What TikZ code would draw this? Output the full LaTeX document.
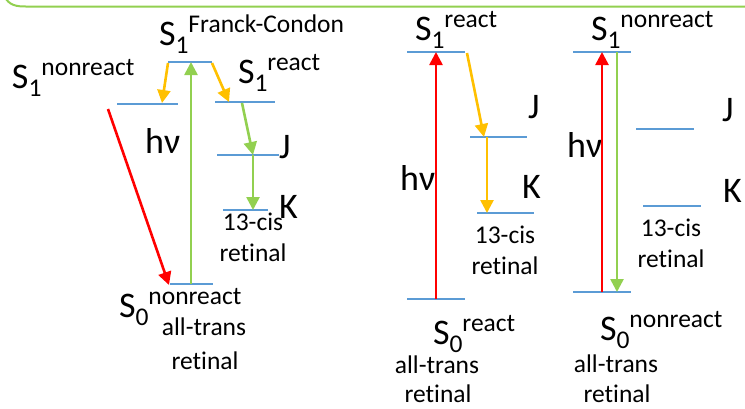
\documentclass[tikz,border=0pt]{standalone}
\usepackage{fontspec}
\setmainfont{Carlito}[Ligatures={NoCommon}]
\usetikzlibrary{arrows.meta}

\definecolor{lvlblue}{HTML}{5B9BD5}
\definecolor{photored}{HTML}{FF0000}
\definecolor{relaxamber}{HTML}{FFC000}
\definecolor{leafgreen}{HTML}{92D050}

\newcommand\bigtxt{\fontsize{36}{40}\selectfont}
\newcommand\smalltxt{\fontsize{25.5}{28}\selectfont}
% state symbol: large letter, subscript index, then raised tag
\newcommand\statelabel[3]{{\bigtxt #1}\raisebox{-8pt}{\smalltxt #2}\raisebox{13pt}{\smalltxt #3}}

\tikzset{
  x=1pt, y=-1pt,
  level/.style={draw=lvlblue, line width=1.5pt},
  trans/.style={line width=2.6pt, -{Triangle[length=13pt,width=13pt]}},
  statetxt/.style={anchor=base west, inner sep=0pt, outer sep=0pt},
  bigtag/.style={anchor=base west, inner sep=0pt, font=\bigtxt},
  note/.style={anchor=base, inner sep=0pt, font=\smalltxt},
}

\begin{document}
\begin{tikzpicture}
\useasboundingbox (0,0) rectangle (745,408);

% frame edge along the top
\draw[leafgreen, line width=2pt] (6,-1) to[out=-55,in=180] (30,6.5) -- (746,6.5);

% ---------- left panel ----------
\coordinate (fcL) at (168,62);  \coordinate (fcR) at (212,62);
\coordinate (nrL) at (117,104); \coordinate (nrR) at (178,104);
\coordinate (rcL) at (215,102); \coordinate (rcR) at (275,102);
\coordinate (jaL) at (217,155); \coordinate (jaR) at (279,155);
\coordinate (kaL) at (223,210); \coordinate (kaR) at (268,210);
\coordinate (s0aL) at (170,284);\coordinate (s0aR) at (213,284);
\draw[level] (fcL) -- (fcR);
\draw[level] (nrL) -- (nrR);
\draw[level] (rcL) -- (rcR);
\draw[level] (jaL) -- (jaR);
\draw[level] (kaL) -- (kaR);
\draw[level] (s0aL) -- (s0aR);

\node[statetxt] (fcLab) at (159,45) {\statelabel{S}{1}{Franck-Condon}};
\node[statetxt] (nrLab) at (12,88) {\statelabel{S}{1}{nonreact}};
\node[statetxt] (rcLab) at (238,83) {\statelabel{S}{1}{react}};
\node[statetxt] (s0aLab) at (119,317) {\statelabel{S}{0}{nonreact}};
\node[bigtag] (hvA) at (145,153) {hν};
\node[bigtag] (jA) at (279,158) {J};
\node[bigtag] (kA) at (279,218) {K};
\node[note] (cisA) at (253,230) {13-cis};
\node[note] (cisAr) at (253,261) {retinal};
\node[note] (transA) at (204,335) {all-trans};
\node[note] (transAr) at (205,369) {retinal};

\coordinate (yA1s) at (168,63);  \coordinate (yA1e) at (162,103);
\coordinate (yA2s) at (212,63);  \coordinate (yA2e) at (229,102);
\coordinate (gA1s) at (242,103); \coordinate (gA1e) at (253,155);
\coordinate (gA2s) at (253,155); \coordinate (gA2e) at (253,210);
\coordinate (gUps) at (191,284); \coordinate (gUpe) at (191,62);
\coordinate (rAs) at (108,109);  \coordinate (rAe) at (169,285);
\draw[trans, relaxamber] (yA1s) -- (yA1e);
\draw[trans, relaxamber] (yA2s) -- (yA2e);
\draw[trans, leafgreen] (gA1s) -- (gA1e);
\draw[trans, leafgreen] (gA2s) -- (gA2e);
\draw[trans, leafgreen] (gUps) -- (gUpe);
\draw[trans, photored] (rAs) -- (rAe);

% ---------- middle panel ----------
\coordinate (s1bL) at (407,52);  \coordinate (s1bR) at (465,52);
\coordinate (jbL) at (470,137);  \coordinate (jbR) at (527,137);
\coordinate (kbL) at (477,213);  \coordinate (kbR) at (534,213);
\coordinate (s0bL) at (407,299); \coordinate (s0bR) at (465,299);
\draw[level] (s1bL) -- (s1bR);
\draw[level] (jbL) -- (jbR);
\draw[level] (kbL) -- (kbR);
\draw[level] (s0bL) -- (s0bR);

\node[statetxt] (s1bLab) at (415,40) {\statelabel{S}{1}{react}};
\node[statetxt] (s0bLab) at (433,344) {\statelabel{S}{0}{react}};
\node[bigtag] (hvB) at (400,190) {hν};
\node[bigtag] (jB) at (528,118) {J};
\node[bigtag] (kB) at (522,198) {K};
\node[note] (cisB) at (505,243) {13-cis};
\node[note] (cisBr) at (505,274) {retinal};
\node[note] (transB) at (437,373) {all-trans};
\node[note] (transBr) at (438,402) {retinal};

\coordinate (rBs) at (436,299); \coordinate (rBe) at (436,52);
\coordinate (yB1s) at (467,53); \coordinate (yB1e) at (484,137);
\coordinate (yB2s) at (487,137); \coordinate (yB2e) at (487,213);
\draw[trans, photored] (rBs) -- (rBe);
\draw[trans, relaxamber] (yB1s) -- (yB1e);
\draw[trans, relaxamber] (yB2s) -- (yB2e);

% ---------- right panel ----------
\coordinate (s1cL) at (573,52);  \coordinate (s1cR) at (631,52);
\coordinate (jcL) at (636,129);  \coordinate (jcR) at (694,129);
\coordinate (kcL) at (643,206);  \coordinate (kcR) at (701,206);
\coordinate (s0cL) at (573,292); \coordinate (s0cR) at (631,292);
\draw[level] (s1cL) -- (s1cR);
\draw[level] (jcL) -- (jcR);
\draw[level] (kcL) -- (kcR);
\draw[level] (s0cL) -- (s0cR);

\node[statetxt] (s1cLab) at (591,40) {\statelabel{S}{1}{nonreact}};
\node[statetxt] (s0cLab) at (600,340) {\statelabel{S}{0}{nonreact}};
\node[bigtag] (hvC) at (567,157) {hν};
\node[bigtag] (jC) at (722,121) {J};
\node[bigtag] (kC) at (723,202) {K};
\node[note] (cisC) at (671,236) {13-cis};
\node[note] (cisCr) at (671,267) {retinal};
\node[note] (transC) at (616,372) {all-trans};
\node[note] (transCr) at (617,402) {retinal};

\coordinate (rCs) at (602,292); \coordinate (rCe) at (602,52);
\coordinate (gCs) at (617,52);  \coordinate (gCe) at (617,292);
\draw[trans, photored] (rCs) -- (rCe);
\draw[trans, leafgreen] (gCs) -- (gCe);
\end{tikzpicture}
\end{document}
